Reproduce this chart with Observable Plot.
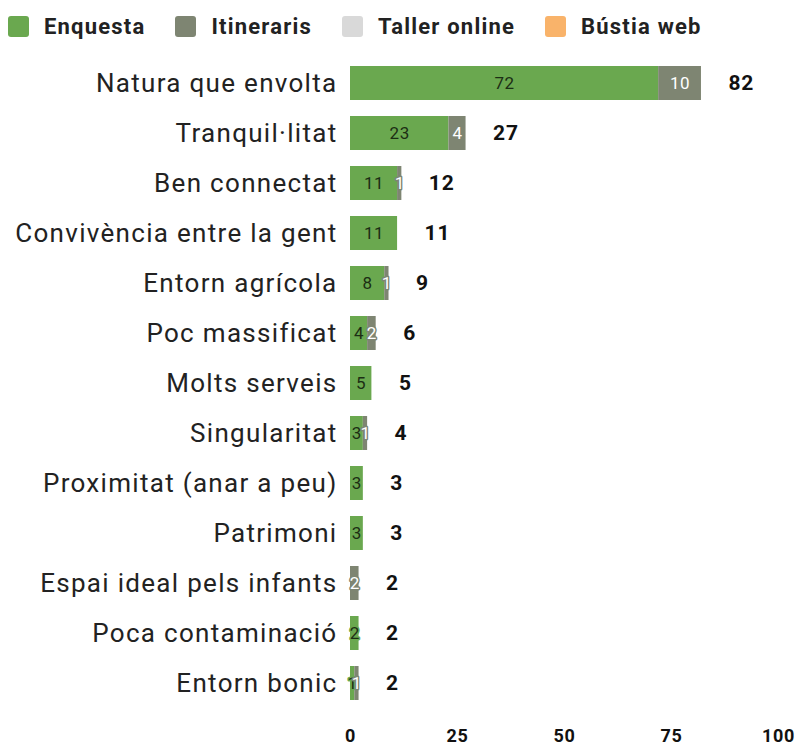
<!DOCTYPE html>
<html><head><meta charset="utf-8">
<script src="https://cdn.jsdelivr.net/npm/d3@7"></script>
<script src="https://cdn.jsdelivr.net/npm/@observablehq/plot@0.6"></script>
<style>
body{margin:0;background:#fff;font-family:Roboto,sans-serif;}
#legend{height:50px;display:flex;align-items:center;padding-left:8px;padding-top:3px;box-sizing:border-box;font-weight:bold;font-size:22px;letter-spacing:1.2px;color:#222;white-space:nowrap;}
#legend span.sw{display:inline-block;width:21px;height:21px;border-radius:3px;margin-right:15px;}
#legend span.it{display:inline-flex;align-items:center;margin-right:30px;}
#chart svg [aria-label="y-axis tick label"] text{letter-spacing:1.3px;}
#chart svg [aria-label="x-axis tick label"] text{letter-spacing:0.6px;}
</style></head>
<body>
<div id="legend"></div>
<div id="chart"></div>
<script>
const categories = ["Natura que envolta","Tranquil·litat","Ben connectat","Convivència entre la gent","Entorn agrícola","Poc massificat","Molts serveis","Singularitat","Proximitat (anar a peu)","Patrimoni","Espai ideal pels infants","Poca contaminació","Entorn bonic"];
const enquesta   = [72,23,11,11,8,4,5,3,3,3,0,2,1];
const itineraris = [10,4,1,0,1,2,0,1,0,0,2,0,1];
const tallerOnline = [0,0,0,0,0,0,0,0,0,0,0,0,0];
const bustiaWeb  = [0,0,0,0,0,0,0,0,0,0,0,0,0];
const seriesNames = ["Enquesta","Itineraris","Taller online","Bústia web"];
const seriesColors = ["#6aa84f","#7e8572","#d9d9d9","#f9b36a"];
const textColors = ["#1c2e14","#ffffff","#222222","#222222"];
const xTicks = [0,25,50,75,100];

const seriesVals = [enquesta, itineraris, tallerOnline, bustiaWeb];
const rows = [];
categories.forEach((c,i)=>seriesNames.forEach((s,j)=>rows.push({cat:c, series:s, value:seriesVals[j][i]})));
const totals = categories.map((c,i)=>({cat:c, total:seriesVals.reduce((a,v)=>a+v[i],0)}));

const lg = document.getElementById("legend");
seriesNames.forEach((s,j)=>{
  const it=document.createElement("span");it.className="it";
  it.innerHTML=`<span class="sw" style="background:${seriesColors[j]}"></span>${s}`;
  lg.appendChild(it);
});

const color = {domain: seriesNames, range: seriesColors};
const tcol = d3.scaleOrdinal(seriesNames, textColors);
const scol = d3.scaleOrdinal(seriesNames, seriesColors);
const plot = Plot.plot({
  width: 800, height: 695,
  marginLeft: 350, marginRight: 22, marginTop: 0, marginBottom: 29,
  style: {fontFamily: "Roboto, sans-serif", background: "#fff"},
  x: {domain: [0,100], ticks: xTicks, label: null},
  y: {domain: categories, padding: 0.32, label: null},
  color,
  marks: [
    Plot.barX(rows.filter(d=>d.value>0), Plot.stackX({x:"value", y:"cat", fill:"series", order: seriesNames})),
    Plot.text(rows.filter(d=>d.value>0), Plot.stackX({x:"value", y:"cat", z:"series", order: seriesNames, text: d=>String(d.value), fill: d=>tcol(d.series), stroke: d=>scol(d.series), strokeWidth: 3, paintOrder:"stroke", fontSize: 17})),
    Plot.text(totals, {x:"total", y:"cat", text: d=>String(d.total), dx: 27, textAnchor:"start", fontWeight:"bold", fontSize:21, fill:"#111"}),
    Plot.axisY({tickSize:0, tickPadding:13, fontSize:26, color:"#222", label:null}),
    Plot.axisX({ticks: xTicks, tickSize:0, tickPadding:13, fontSize:18, fontWeight:"bold", color:"#111", label:null})
  ]
});
const tg = plot.querySelectorAll('g[aria-label="text"]');
if (tg[0]) tg[0].setAttribute("letter-spacing","0.6");
if (tg[1]) tg[1].setAttribute("letter-spacing","0.8");
document.getElementById("chart").appendChild(plot);
</script>
</body></html>
